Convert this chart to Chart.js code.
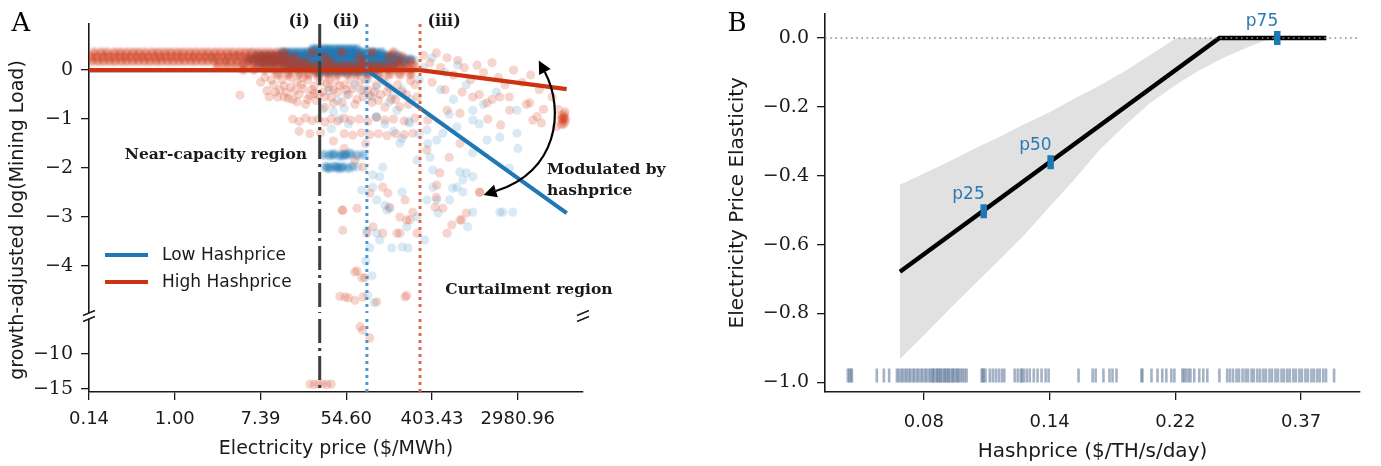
<!DOCTYPE html>
<html><head><meta charset="utf-8">
<script src="https://cdn.jsdelivr.net/npm/chart.js@4.4.1/dist/chart.umd.min.js"></script>
<style>
html,body{margin:0;padding:0;background:#fff;}
#wrap{position:relative;width:1381px;height:466px;overflow:hidden;background:#fff;}
canvas{position:absolute;top:0;}
#ca{left:0;} #cb{left:690px;}
</style></head><body>
<div id="wrap"><canvas id="ca" width="690" height="466"></canvas><canvas id="cb" width="691" height="466"></canvas></div>
<script>
// ---------------- Panel A data (x = log electricity price, y = growth-adjusted log mining load)
const priceTicks = [-2, 0, 2, 4, 6, 8];
const loadTicksTop = [0, -1, -2, -3, -4];
const loadTicksBottom = [-10, -15];
const thresholds = [3.38, 4.48, 5.72];
const thresholdLabels = ['(i)', '(ii)', '(iii)'];
const lowFitX = [-2, 4.48, 9.14];
const lowFitY = [0, 0, -2.92];
const highFitX = [-2, 5.72, 9.14];
const highFitY = [0, 0, -0.39];

const blueCoreRows = [
  [0.43, [3.22,3.31,3.4,3.5,3.58,3.67,3.77,3.86,3.95,4.05,4.14,4.24]],
  [0.36, [2.5,2.6,2.69,2.79,2.88,2.98,3.07,3.17,3.26,3.36,3.45,3.55,3.64,3.74,3.83,3.93,4.02,4.12,4.21,4.31,4.4,4.5,4.6,4.7,4.82]],
  [0.29, [1.92,2.02,2.11,2.21,2.3,2.4,2.49,2.59,2.68,2.78,2.87,2.97,3.06,3.16,3.25,3.35,3.44,3.54,3.63,3.73,3.82,3.92,4.01,4.11,4.2,4.3,4.39,4.49,4.58,4.68,4.77,4.87,4.97,5.08,5.2]],
  [0.22, [1.72,1.82,1.91,2.01,2.1,2.2,2.29,2.39,2.48,2.58,2.67,2.77,2.86,2.96,3.05,3.15,3.24,3.34,3.43,3.53,3.62,3.72,3.81,3.91,4.0,4.1,4.19,4.29,4.38,4.48,4.57,4.67,4.76,4.86,4.95,5.05,5.15,5.26,5.38,5.5]],
  [0.14, [1.95,2.05,2.14,2.24,2.33,2.43,2.52,2.62,2.71,2.81,2.9,3.0,3.09,3.19,3.28,3.38,3.47,3.57,3.66,3.76,3.85,3.95,4.04,4.14,4.23,4.33,4.42,4.52,4.61,4.71,4.8,4.9,5.0,5.11,5.23,5.36]],
  [0.06, [2.62,2.72,2.81,2.91,3.0,3.1,3.19,3.29,3.38,3.48,3.57,3.67,3.76,3.86,3.95,4.05,4.14,4.24,4.33,4.43,4.52,4.62,4.72,4.83,4.95,5.08]],
  [-0.03, [3.3,3.41,3.52,3.63,3.74,3.85,3.96,4.07,4.18,4.29,4.4,4.52,4.65]]
];
const blueStreaks = [
  [3.47,-1.73],[3.6,-1.74],[3.72,-1.72],[3.84,-1.75],[3.96,-1.73],[4.1,-1.72],[4.25,-1.74],[4.4,-1.73],[3.67,-1.73],[3.9,-1.74],[4.0,-1.73],
  [3.52,-1.98],[3.62,-2.0],[3.72,-1.97],[3.82,-2.0],[3.93,-1.98],[4.05,-2.0],[4.15,-1.97],[3.57,-1.99],[3.77,-1.98],[3.88,-1.99]
];
const redCoreRows = [
  [0.36, [-1.88,-1.72,-1.58,-1.41,-1.27,-1.12,-0.97,-0.83,-0.68,-0.52,-0.38,-0.23,-0.09,0.06,0.2,0.35,0.49,0.64,0.78,0.93,1.07,1.22,1.36,1.51,1.65,1.8,1.94,2.09,2.23,2.38,2.55,3.2,3.9,4.6,5.1]],
  [0.27, [-1.95,-1.82,-1.68,-1.55,-1.42,-1.28,-1.15,-1.02,-0.88,-0.75,-0.62,-0.48,-0.35,-0.22,-0.08,0.05,0.18,0.32,0.45,0.58,0.72,0.85,0.98,1.12,1.25,1.38,1.52,1.65,1.78,1.92,2.05,2.18,2.32,2.45,2.6,2.78,3.5,4.3,5.0,5.3]],
  [0.18, [-1.93,-1.79,-1.66,-1.52,-1.39,-1.25,-1.12,-0.98,-0.85,-0.71,-0.58,-0.44,-0.31,-0.17,-0.04,0.1,0.23,0.37,0.5,0.64,0.77,0.91,1.04,1.18,1.31,1.45,1.58,1.72,1.85,1.99,2.12,2.26,2.39,2.53,2.68,2.85,3.02,3.6,4.4,5.2,5.5]],
  [0.09, [1.0,1.2,1.4,1.6,1.78,1.95,2.1,2.25,2.4,2.55,2.7,2.85,3.0,3.15,3.3,3.45,3.6,3.75,3.9,4.05,4.2,4.35,4.5,4.65,4.8,4.95,5.1,5.25,5.4,5.58]],
  [0.01, [1.6,1.85,2.1,2.3,2.5,2.7,2.88,3.05,3.22,3.4,3.57,3.75,3.92,4.1,4.28,4.45,4.62,4.8,4.98,5.15,5.32,5.5]],
  [-0.09, [2.4,2.65,2.9,3.12,3.35,3.58,3.8,4.02,4.25,4.5,4.75,5.0,5.25,5.5]]
];
const blueSparse = [
  [1.2,0.2],[1.45,0.3],[1.6,0.12],[0.9,0.25],[1.75,0.35],
  [4.5,-0.2],[4.7,-0.35],[4.9,-0.25],[5.1,-0.5],[5.3,-0.4],[4.6,-0.55],[5.0,-0.65],[5.5,-0.6],[4.4,-0.4],[4.2,-0.3],[4.0,-0.5],[3.8,-0.62],[3.6,-0.42],[3.45,-0.8],[3.7,-0.85],[3.95,-0.78],[3.85,-1.0],[4.05,-1.1],[3.65,-1.2],[4.7,-0.95],[4.9,-1.1],[5.1,-1.25],[5.3,-1.4],[5.45,-1.05],[5.7,-1.3],[5.9,-1.5],
  [4.71,-0.96],[5.18,-0.82],[5.48,-1.08],[5.88,-1.22],[6.11,-1.43],[6.25,-1.29],[6.58,-1.16],[6.95,-0.82],[6.95,-1.02],[7.98,-0.82],[7.98,-1.29],[7.58,-1.37],[7.28,-1.43],[6.95,-1.69],[6.8,-2.1],[6.58,-2.39],[6.02,-2.39],[6.41,-2.65],[6.95,-2.9],[7.58,-2.9],[7.88,-2.9],[6.72,-2.24],[6.02,-2.04],[5.65,-1.84],[5.25,-1.49],[4.85,-1.98],[4.62,-2.39],[4.71,-2.65],[4.95,-2.86],[5.41,-3.2],[5.88,-2.65],[4.48,-3.27],[4.71,-3.33],
  [4.08,-1.69],[4.27,-1.98],[4.36,-2.45],[4.62,-2.14],[4.78,-2.18],[4.9,-2.76],[5.02,-2.82],[5.3,-2.49],[5.65,-3.0],[5.83,-3.47],[5.06,-3.63],[5.3,-3.61],[5.44,-3.63],[6.14,-2.92],[6.48,-2.41],[6.72,-2.49],[6.95,-2.18],[6.83,-3.2],[6.65,-2.08],[7.65,-2.9],[5.95,-1.78],[4.55,-3.63],[4.78,-3.47],[6.11,-2.65],
  [5.6,0.2],[5.8,0.05],[6.0,0.25],[6.3,-0.05],[6.6,0.1],[5.7,-0.2],[6.2,-0.4],[6.5,-0.6],[6.8,-0.3],[7.2,-0.7],[7.5,-0.45],[7.1,-1.1],[6.4,-0.9],[8.0,-1.6],[7.8,-2.0],
  [4.45,-3.9],[4.6,-4.2],[4.5,-4.6],[4.65,-4.75]
];
const redSparse = [
  [1.52,-0.51],[2.0,-0.25],[2.15,-0.42],[2.3,-0.3],[2.4,-0.55],[2.5,-0.2],[2.6,-0.46],[2.7,-0.35],[2.75,-0.6],[2.85,-0.25],[2.9,-0.5],[3.0,-0.38],[3.05,-0.7],[3.1,-0.2],[3.15,-0.52],[3.25,-0.33],[3.3,-0.62],[3.4,-0.25],[3.45,-0.45],[3.5,-0.76],[3.6,-0.35],[3.65,-0.56],[3.75,-0.22],[3.8,-0.45],[3.9,-0.66],[3.95,-0.3],[4.05,-0.5],[4.15,-0.38],[4.2,-0.7],[4.3,-0.25],[4.4,-0.55],[4.5,-0.4],[4.6,-0.66],[4.7,-0.3],[4.8,-0.5],[4.9,-0.76],[5.0,-0.35],[5.15,-0.6],[5.3,-0.45],[5.45,-0.7],[5.6,-0.3],
  [2.55,-0.32],[2.8,-0.42],[2.95,-0.3],[3.2,-0.4],[3.35,-0.5],[3.55,-0.28],[3.7,-0.4],[2.65,-0.58],[2.45,-0.4],[2.2,-0.55],
  [2.1,-0.15],[2.25,-0.2],[2.35,-0.45],[2.55,-0.55],[2.7,-0.15],[2.85,-0.65],[3.0,-0.15],[3.1,-0.6],[3.25,-0.48],[3.35,-0.15],[3.5,-0.55],[3.6,-0.18],[3.7,-0.68],[3.85,-0.32],[4.0,-0.4],[4.1,-0.2],[4.25,-0.6],[4.35,-0.42],[4.45,-0.2],[4.55,-0.52],[4.65,-0.45],[4.75,-0.62],[4.85,-0.2],[4.95,-0.45],[5.05,-0.6],[5.2,-0.3],[5.25,-0.75],[5.4,-0.5],[5.5,-0.22],[5.65,-0.55],
  [2.75,-1.0],[2.9,-1.05],[3.05,-0.98],[3.2,-1.03],[3.35,-1.0],[3.5,-1.06],[3.65,-1.0],[3.8,-1.04],[3.95,-0.98],[4.1,-1.02],[4.3,-1.0],[4.5,-1.05],[4.7,-0.97],[4.9,-1.02],[5.1,-1.0],[5.35,-1.04],[5.6,-0.98],[5.9,-1.02],
  [2.9,-1.25],[3.15,-1.3],[3.4,-1.28],[3.95,-1.3],[4.15,-1.33],[4.35,-1.28],[4.55,-1.32],[4.75,-1.3],[4.95,-1.34],[5.15,-1.3],[5.35,-1.32],[5.55,-1.29],
  [5.8,0.3],[5.95,0.15],[6.1,0.35],[6.2,0.05],[6.35,0.25],[6.5,-0.1],[6.6,0.2],[6.75,0.05],[6.9,-0.2],[7.05,0.1],[7.2,-0.05],[7.4,0.15],[7.55,-0.15],[7.7,-0.3],[7.9,0.0],[8.1,-0.25],[8.3,-0.1],[8.5,-0.4],[6.0,-0.25],[6.3,-0.4],[6.7,-0.45],[7.1,-0.5],[7.4,-0.6],[7.8,-0.55],[8.2,-0.7],[8.6,-0.8],[8.8,-0.55],
  [7.28,-0.67],[7.58,-0.55],[8.28,-0.67],[8.35,-1.02],[6.35,-0.82],[6.65,-0.88],[6.95,-0.55],[7.81,-0.82],[6.65,-1.5],[7.3,-1.0],[7.6,-1.12],[8.45,-0.95],[8.55,-1.08],
  [3.7,-1.45],[3.95,-1.6],[4.2,-1.84],[4.45,-1.5],[3.92,-2.86],[5.0,-2.8],[5.48,-3.06],[6.1,-2.6],[7.11,-2.5],[6.4,-1.78],[6.18,-2.1],[5.88,-1.63],[6.8,-2.92],[6.35,-3.33],[6.65,-3.06],[5.25,-3.0],[3.92,-3.27],[4.85,-2.39],[4.39,-1.98],
  [4.55,-2.51],[4.97,-2.51],[5.37,-2.65],[5.55,-2.9],[3.9,-2.86],[4.25,-2.82],[4.62,-3.2],[5.25,-3.33],[5.41,-3.06],[6.07,-2.8],[6.25,-2.82],[6.46,-3.16],[6.69,-3.06],[7.11,-2.49],[6.11,-2.35],
  [4.2,-4.12],[4.43,-4.24],[3.97,-4.63],[5.37,-4.63],[4.39,-4.63],[4.25,-4.1],[4.36,-4.24],[3.85,-4.62],[4.05,-4.65],[4.2,-4.7],[4.71,-4.73],[5.41,-4.6],[4.48,-3.33],[4.85,-3.33],[5.18,-3.33],[5.65,-3.33],
  [9.03,-0.92],[9.08,-0.97],[9.05,-1.02],[9.1,-1.05],[9.04,-1.08],[9.09,-0.9],[9.06,-1.0],[9.02,-1.12],[9.1,-0.85],[9.07,-0.95],[9.04,-1.0],[9.08,-1.1],[9.0,-0.98],[9.12,-1.0],[8.95,-0.8],[8.9,-1.15]
];
const redBottom = [[3.15,-14.3],[3.25,-14.35],[3.35,-14.3],[3.45,-14.3],[3.55,-14.35],[3.65,-14.3],[4.32,-6.1],[4.38,-6.6],[4.55,-7.7]];

// ---------------- Panel B data (x = log hashprice)
const hashTicks = [-2.5, -2, -1.5, -1];
const elastTicks = [-1, -0.8, -0.6, -0.4, -0.2, 0];
const elastX = [-2.595, -1.325, -0.90];
const elastY = [-0.679, 0, 0];
const bandX = [-2.595,-2.496,-2.397,-2.298,-2.198,-2.099,-2.0,-1.901,-1.802,-1.702,-1.603,-1.496,-1.405,-1.306,-1.206,-1.115];
const bandUpper = [-0.426,-0.392,-0.358,-0.321,-0.287,-0.25,-0.216,-0.176,-0.139,-0.097,-0.051,0,0,0,0,0];
const bandLower = [-0.932,-0.860,-0.787,-0.715,-0.643,-0.571,-0.49,-0.41,-0.325,-0.255,-0.19,-0.135,-0.094,-0.057,-0.025,0];
const pctX = [-2.262, -1.996, -1.095];
const pctY = [-0.503, -0.361, 0.0];
const pctLabels = ['p25', 'p50', 'p75'];
const rugX = [-2.802,-2.796,-2.790,-2.786,-2.687,-2.659,-2.638,
 -2.607,-2.600,-2.590,-2.584,-2.574,-2.568,-2.559,-2.553,-2.543,-2.537,-2.527,-2.521,-2.511,-2.505,-2.495,-2.489,-2.479,-2.473,-2.463,-2.458,-2.465,-2.449,-2.441,-2.447,-2.432,-2.426,-2.436,-2.418,-2.410,-2.416,-2.401,-2.394,-2.404,-2.386,-2.378,-2.384,-2.370,-2.361,-2.366,-2.353,-2.346,-2.338,-2.330,
 -2.270,-2.266,-2.262,-2.255,-2.238,-2.226,-2.214,-2.202,-2.190,-2.180,
 -2.139,-2.127,-2.115,-2.110,-2.103,-2.091,-2.079,-2.063,-2.048,-2.032,-2.016,-2.004,
 -1.885,-1.829,-1.817,-1.786,-1.762,-1.750,-1.734,
 -1.635,-1.631,-1.595,-1.571,-1.552,-1.536,-1.516,-1.504,
 -1.472,-1.466,-1.458,-1.448,-1.440,-1.425,-1.405,-1.389,-1.373,
 -1.325,
 -1.294,-1.283,-1.271,-1.257,-1.247,-1.233,-1.221,-1.211,-1.197,-1.188,-1.174,-1.163,-1.150,-1.140,-1.126,-1.116,-1.102,-1.092,-1.078,-1.068,-1.055,-1.045,-1.031,-1.021,-1.007,-0.997,-0.983,-0.973,-0.959,-0.949,-0.936,-0.926,-0.912,-0.901,
 -0.869];
const rugLevel = -0.98;

// ---------------- styling
const SERIF = '"DejaVu Serif", serif';
const SANS = '"DejaVu Sans", sans-serif';
const INK = '#1a1a1a';
const BLUE = '#1f77b4';
const RED = '#cc3311';
Chart.defaults.font.family = SANS;
Chart.defaults.color = INK;

const pts = (xs, ys) => xs.map((v, i) => ({x: v, y: ys[i]}));
const pairs = arr => arr.map(p => ({x: p[0], y: p[1]}));
const rows = r => r.flatMap(([yv, xs]) => xs.map(xv => ({x: xv, y: yv})));
const fixTicks = list => s => { s.ticks = list.map(v => ({value: v})); };
const minus = v => (v < 0 ? '\u2212' : '') ;

const scatterDs = (data, color, axis, order, soft) => ({
  data, yAxisID: axis, order, showLine: false, soft,
  backgroundColor: color, borderColor: color, pointBackgroundColor: color,
  pointBorderWidth: 0, pointRadius: 4.6, pointHoverRadius: 4.6
});

// soften the scatter markers (the original is a dense, anti-aliased cloud)
const softPoints = {
  id: 'softPoints',
  beforeDatasetDraw(chart, args) {
    const s = chart.data.datasets[args.index].soft;
    if (s) { chart.ctx.save(); chart.ctx.filter = 'blur(' + s + 'px)'; }
  },
  afterDatasetDraw(chart, args) {
    if (chart.data.datasets[args.index].soft) { chart.ctx.restore(); }
  }
};

const panelAPlugin = {
  id: 'panelA',
  afterDatasetsDraw(chart) {
    const {ctx, chartArea: ca, scales: {x, y, y2}} = chart;
    const gTop = y.bottom - 3, gBot = y2.top + 3;
    const styles = [
      {c: '#3d3d3d', d: [24, 5, 3, 5]},
      {c: 'rgba(60,140,205,0.9)', d: [3, 4]},
      {c: 'rgba(222,90,60,0.9)', d: [3, 4]}
    ];
    thresholds.forEach((t, i) => {
      const px = x.getPixelForValue(t);
      ctx.save();
      ctx.strokeStyle = styles[i].c; ctx.lineWidth = 3; ctx.setLineDash(styles[i].d);
      ctx.beginPath(); ctx.moveTo(px, ca.top); ctx.lineTo(px, gTop); ctx.stroke();
      ctx.beginPath(); ctx.moveTo(px, gBot); ctx.lineTo(px, ca.bottom); ctx.stroke();
      ctx.restore();
    });
  },
  afterDraw(chart) {
    const {ctx, chartArea: ca, scales: {x, y, y2}} = chart;
    const gTop = y.bottom - 3, gBot = y2.top + 3;
    ctx.save();
    // broken-axis gap and marks
    ctx.fillStyle = '#fff';
    ctx.fillRect(ca.left - 3, gTop, 6, gBot - gTop);
    ctx.strokeStyle = INK; ctx.lineWidth = 1.5;
    [ca.left, ca.right].forEach(bx => {
      [gTop, gBot].forEach(by => {
        ctx.beginPath(); ctx.moveTo(bx - 6, by + 2.5); ctx.lineTo(bx + 6, by - 2.5); ctx.stroke();
      });
    });
    // threshold labels
    ctx.fillStyle = INK; ctx.font = 'bold 16px ' + SERIF; ctx.textAlign = 'center'; ctx.textBaseline = 'alphabetic';
    const lblX = [2.9, 3.99, 6.28];
    thresholdLabels.forEach((t, i) => ctx.fillText(t, x.getPixelForValue(lblX[i]), ca.top + 2));
    // region annotations
    ctx.font = 'bold 15.5px ' + SERIF; ctx.textBaseline = 'middle';
    ctx.fillText('Near-capacity region', x.getPixelForValue(0.96), y.getPixelForValue(-1.73));
    ctx.fillText('Curtailment region', x.getPixelForValue(8.26), y.getPixelForValue(-4.49));
    ctx.textAlign = 'left';
    ctx.fillText('Modulated by', x.getPixelForValue(8.68), y.getPixelForValue(-2.04));
    ctx.fillText('hashprice', x.getPixelForValue(8.68), y.getPixelForValue(-2.47));
    // curved double arrow
    const P = (a, b) => [x.getPixelForValue(a), y.getPixelForValue(b)];
    const p0 = P(8.63, -0.04), c1 = P(9.10, -0.82), c2 = P(8.93, -2.08), p3 = P(7.49, -2.47);
    ctx.strokeStyle = '#000'; ctx.lineWidth = 2.2;
    ctx.beginPath(); ctx.moveTo(p0[0], p0[1]); ctx.bezierCurveTo(c1[0], c1[1], c2[0], c2[1], p3[0], p3[1]); ctx.stroke();
    const head = (base, from) => {
      let dx = base[0] - from[0], dy = base[1] - from[1];
      const L = Math.hypot(dx, dy); dx /= L; dy /= L;
      const tip = [base[0] + dx * 13, base[1] + dy * 13];
      const nx = -dy, ny = dx;
      ctx.fillStyle = '#000';
      ctx.beginPath(); ctx.moveTo(tip[0], tip[1]);
      ctx.lineTo(base[0] + nx * 6.5, base[1] + ny * 6.5);
      ctx.lineTo(base[0] - nx * 6.5, base[1] - ny * 6.5);
      ctx.closePath(); ctx.fill();
    };
    head(p0, c1); head(p3, c2);
    // legend (Low first, as in the figure)
    const legend = chart.data.datasets.filter(d => d.legend).sort((a, b) => a.legendRank - b.legendRank);
    ctx.font = '17px ' + SANS; ctx.textAlign = 'left'; ctx.textBaseline = 'middle';
    legend.forEach((d, i) => {
      const ly = ca.top + 231 + i * 27;
      ctx.strokeStyle = d.borderColor; ctx.lineWidth = 4.2;
      ctx.beginPath(); ctx.moveTo(ca.left + 16, ly); ctx.lineTo(ca.left + 59, ly); ctx.stroke();
      ctx.fillStyle = INK; ctx.fillText(d.label, ca.left + 73, ly + 1);
    });
    // y-axis title spanning both axes
    ctx.save();
    ctx.translate(18, (ca.top + ca.bottom) / 2 + 12);
    ctx.rotate(-Math.PI / 2);
    ctx.font = '19px ' + SANS; ctx.textAlign = 'center'; ctx.textBaseline = 'middle'; ctx.fillStyle = INK;
    ctx.fillText('growth-adjusted log(Mining Load)', 0, 0);
    ctx.restore();
    // panel letter
    ctx.font = '26px ' + SERIF; ctx.textAlign = 'center'; ctx.textBaseline = 'middle'; ctx.fillStyle = '#000';
    ctx.fillText('A', 21, 24);
    ctx.restore();
  }
};

const axisCommon = {
  grid: {drawOnChartArea: false, drawTicks: true, tickLength: 8, color: INK, lineWidth: 1.3},
  border: {display: true, color: INK, width: 1.6}
};

new Chart(document.getElementById('ca'), {
  type: 'scatter',
  data: {datasets: [
    {label: 'High Hashprice', legend: true, legendRank: 2, data: pts(highFitX, highFitY), yAxisID: 'y', order: 1, showLine: true,
      borderColor: RED, borderWidth: 4.2, pointRadius: 0, pointHoverRadius: 0, borderCapStyle: 'butt'},
    {label: 'Low Hashprice', legend: true, legendRank: 1, data: pts(lowFitX, lowFitY), yAxisID: 'y', order: 2, showLine: true,
      borderColor: BLUE, borderWidth: 4.2, pointRadius: 0, pointHoverRadius: 0, borderCapStyle: 'butt'},
    scatterDs(pairs(redSparse), 'rgba(214,64,30,0.22)', 'y', 3, 0.7),
    scatterDs(rows(redCoreRows), 'rgba(204,51,17,0.47)', 'y', 4, 1.3),
    scatterDs(rows(blueCoreRows), 'rgba(31,119,180,0.62)', 'y', 5, 1.3),
    scatterDs(pairs(blueStreaks), 'rgba(31,119,180,0.45)', 'y', 6, 0.9),
    scatterDs(pairs(blueSparse), 'rgba(52,136,200,0.18)', 'y', 7, 0.7),
    scatterDs(pairs(redBottom), 'rgba(214,64,30,0.22)', 'y2', 8, 0.7)
  ]},
  options: {
    responsive: false, animation: false, devicePixelRatio: 1,
    events: [],
    layout: {padding: {left: 0, top: 24, right: 107, bottom: 6}},
    plugins: {legend: {display: false}, tooltip: {enabled: false}},
    scales: {
      x: {type: 'linear', min: -2, max: 9.52, position: 'bottom', ...axisCommon,
        afterBuildTicks: fixTicks(priceTicks),
        afterFit: s => { s.height = 68; s.paddingLeft = 0; s.paddingRight = 0; },
        ticks: {autoSkip: false, maxRotation: 0, padding: 9, color: INK, font: {family: SANS, size: 18},
          callback: v => Math.exp(v).toFixed(2)},
        title: {display: true, text: 'Electricity price ($/MWh)', color: INK, font: {family: SANS, size: 19}, padding: 0}},
      y2: {type: 'linear', position: 'left', stack: 'load', stackWeight: 76, min: -15.43, max: -4.57, ...axisCommon,
        afterBuildTicks: fixTicks(loadTicksBottom),
        afterFit: s => { s.width = 89; s.paddingTop = 0; s.paddingBottom = 0; },
        ticks: {autoSkip: false, padding: 8, color: INK, font: {family: SERIF, size: 19},
          callback: v => minus(v) + Math.abs(v)}},
      y: {type: 'linear', position: 'left', stack: 'load', stackWeight: 292, min: -5.02, max: 0.94, ...axisCommon,
        afterBuildTicks: fixTicks(loadTicksTop),
        afterFit: s => { s.width = 89; s.paddingTop = 0; s.paddingBottom = 0; },
        ticks: {autoSkip: false, padding: 8, color: INK, font: {family: SERIF, size: 19},
          callback: v => minus(v) + Math.abs(v)}}
    }
  },
  plugins: [softPoints, panelAPlugin]
});

// ---------------- Panel B
const panelBPlugin = {
  id: 'panelB',
  afterDraw(chart) {
    const {ctx, scales: {x, y}} = chart;
    ctx.save();
    ctx.fillStyle = '#2a7ab8'; ctx.font = '17px ' + SANS; ctx.textAlign = 'right'; ctx.textBaseline = 'alphabetic';
    pctLabels.forEach((t, i) => ctx.fillText(t, x.getPixelForValue(pctX[i]) + 1, y.getPixelForValue(pctY[i]) - 12));
    ctx.font = '26px ' + SERIF; ctx.textAlign = 'center'; ctx.textBaseline = 'middle'; ctx.fillStyle = '#000';
    ctx.fillText('B', 47, 24);
    ctx.restore();
  }
};

const xMinB = -2.893, xMaxB = -0.766;
new Chart(document.getElementById('cb'), {
  type: 'line',
  data: {datasets: [
    {label: 'percentiles', data: pts(pctX, pctY), order: 0, showLine: false,
      pointStyle: 'line', pointRotation: 90, pointRadius: 7, pointHoverRadius: 7, pointBorderWidth: 6.5, pointBorderColor: BLUE},
    {label: 'zero', data: pts([xMinB, xMaxB], [0, 0]), order: 1, borderColor: '#8a8a8a', borderWidth: 1.6,
      borderDash: [1.6, 3.6], pointRadius: 0, pointHoverRadius: 0},
    {label: 'elasticity', data: pts(elastX, elastY), order: 2, borderColor: '#000', borderWidth: 4.5,
      pointRadius: 0, pointHoverRadius: 0, borderCapStyle: 'butt', borderJoinStyle: 'miter'},
    {label: 'rug', data: rugX.map(v => ({x: v, y: rugLevel})), order: 3, showLine: false,
      pointStyle: 'line', pointRotation: 90, pointRadius: 7, pointHoverRadius: 7, pointBorderWidth: 2.6,
      pointBorderColor: 'rgba(108,130,162,0.62)'},
    {label: 'upper', data: pts(bandX, bandUpper), order: 4, borderWidth: 0, pointRadius: 0, pointHoverRadius: 0,
      backgroundColor: 'rgba(215,215,215,0.75)', fill: '+1'},
    {label: 'lower', data: pts(bandX, bandLower), order: 5, borderWidth: 0, pointRadius: 0, pointHoverRadius: 0}
  ]},
  options: {
    responsive: false, animation: false, devicePixelRatio: 1,
    events: [],
    layout: {padding: {left: 36, top: 5, right: 21, bottom: 2}},
    plugins: {legend: {display: false}, tooltip: {enabled: false}},
    scales: {
      x: {type: 'linear', min: xMinB, max: xMaxB, ...axisCommon,
        afterBuildTicks: fixTicks(hashTicks),
        afterFit: s => { s.height = 72; s.paddingLeft = 0; s.paddingRight = 0; },
        ticks: {autoSkip: false, maxRotation: 0, padding: 12, color: INK, font: {family: SANS, size: 18},
          callback: v => Math.exp(v).toFixed(2)},
        title: {display: true, text: 'Hashprice ($/TH/s/day)', color: INK, font: {family: SANS, size: 20}, padding: 0}},
      y: {type: 'linear', min: -1.028, max: 0.071, ...axisCommon,
        afterBuildTicks: fixTicks(elastTicks),
        afterFit: s => { s.width = 99; s.paddingTop = 0; s.paddingBottom = 0; },
        ticks: {autoSkip: false, padding: 8, color: INK, font: {family: SERIF, size: 19},
          callback: v => minus(v) + Math.abs(v).toFixed(1)},
        title: {display: true, text: 'Electricity Price Elasticity', color: INK, font: {family: SANS, size: 20}, padding: 0}}
    }
  },
  plugins: [panelBPlugin]
});
</script></body></html>
